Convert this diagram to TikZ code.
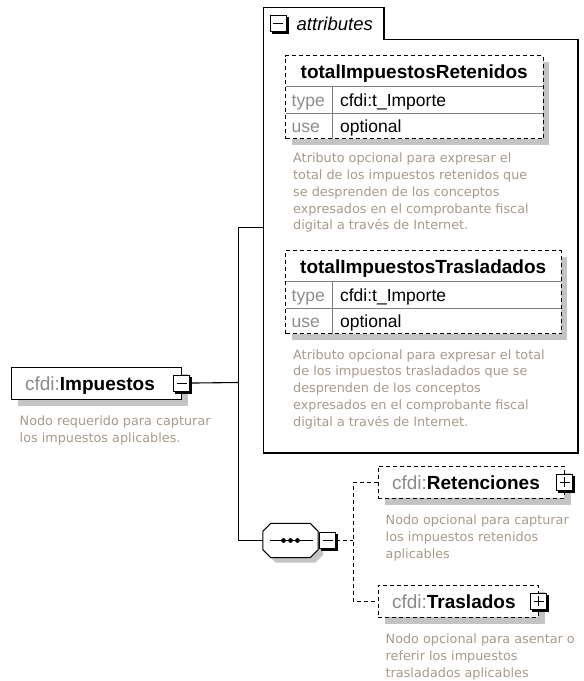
\documentclass[tikz,border=0pt]{standalone}
\usepackage{fontspec}
\setmainfont{Liberation Sans}
\newfontfamily\descfont{DejaVu Sans}
\usetikzlibrary{positioning,fit,backgrounds}
\definecolor{ink}{HTML}{000000}
\definecolor{prefix}{HTML}{8A8A8A}
\definecolor{keygray}{HTML}{8E8E8E}
\definecolor{annot}{HTML}{A8998A}
\definecolor{shade}{HTML}{C4C4C4}
\definecolor{rule}{HTML}{7F7F7F}
\tikzset{
  every node/.style={text=ink},
  castshadow/.style={preaction={fill=shade,draw=none,transform canvas={xshift=#1,yshift=-#1}}},
  elembox/.style={draw=ink,line width=1.1pt,fill=white,minimum height=32,inner xsep=14,inner ysep=0,align=left,font=\fontsize{19}{19}\selectfont,text height=15,text depth=0,castshadow=7pt},
  optbox/.style={elembox,dash pattern=on 4pt off 3pt},
  togglebox/.style={draw=ink,line width=1pt,fill=white,minimum size=16,inner sep=0,preaction={fill=ink,draw=ink,line width=1pt,transform canvas={xshift=2pt,yshift=-2pt}}},
  minusbox/.style={togglebox,path picture={\draw[line width=1pt] ([xshift=3pt]path picture bounding box.west) -- ([xshift=-3pt]path picture bounding box.east);}},
  plusbox/.style={togglebox,path picture={\draw[line width=1pt] ([xshift=3pt]path picture bounding box.west) -- ([xshift=-3pt]path picture bounding box.east) ([yshift=-3pt]path picture bounding box.north) -- ([yshift=3pt]path picture bounding box.south);}},
  frame/.style={draw=ink,line width=1.2pt},
  tablabel/.style={font=\itshape\fontsize{18.5}{18.5}\selectfont,inner sep=0,text height=14,text depth=0},
  attrbox/.style={draw=ink,line width=1pt,dash pattern=on 4pt off 3pt,fill=white,inner sep=0,castshadow=6pt},
  attrname/.style={font=\bfseries\fontsize{19}{19}\selectfont,minimum height=31,inner sep=0,text height=14,text depth=0},
  attrkey/.style={font=\fontsize{17.5}{17.5}\selectfont,text=keygray,text width=35,align=left,inner xsep=6,inner ysep=0,text height=13,text depth=0},
  attrval/.style={attrkey,text=ink,inner xsep=7},
  rowrule/.style={draw=rule,line width=0.9pt},
  seqshape/.style={draw=ink,line width=1pt,fill=white,castshadow=5pt},
  link/.style={draw=ink,line width=1.1pt},
  optlink/.style={draw=ink,line width=1.1pt,dash pattern=on 4pt off 3pt},
  desc/.style={font=\descfont\fontsize{12.8}{16.8}\selectfont,text=annot,align=left,inner sep=0},
}

\begin{document}
\begin{tikzpicture}[x=1pt,y=-1pt]
\useasboundingbox (0,0) rectangle (584,681);

\node[minimum width=314,minimum height=413,anchor=north west,inner sep=0] (attrs) at (263.5,39.5) {};
\node[minimum width=120,minimum height=32,anchor=south west,inner sep=0] (attrtab) at (attrs.north west) {};
\draw[frame] (attrs.south west) -- (attrtab.north west) -- (attrtab.north east) -- (attrtab.south east) -- (attrs.north east) -- (attrs.south east) -- cycle;
\node[minusbox] (tabminus) at ([xshift=14.5pt]attrtab.west) {};
\node[tablabel,right=10pt of tabminus] (tabtext) {attributes};

\node[attrname,minimum width=257,anchor=north west] (retenidos) at (285.5,55.5) {totalImpuestosRetenidos};
\node[attrkey,minimum height=26,below=0pt of retenidos.south west,anchor=north west] (retenidostype) {type};
\node[attrval,minimum height=26,text width=196,right=0pt of retenidostype] (retenidostypeval) {cfdi:t\_Importe};
\node[attrkey,minimum height=25,below=0pt of retenidostype] (retenidosuse) {use};
\node[attrval,minimum height=25,text width=196,right=0pt of retenidosuse] (retenidosuseval) {optional};
\begin{scope}[on background layer]
\node[attrbox,fit=(retenidos)(retenidosuseval)] (retenidosbox) {};
\end{scope}
\draw[rowrule] (retenidos.south west) -- (retenidos.south east);
\draw[rowrule] (retenidostype.south west) -- (retenidostypeval.south east);
\draw[rowrule] (retenidostype.north east) -- (retenidosuse.south east);
\node[desc,below right=13.5pt and 8pt of retenidosbox.south west] (retenidosdesc) {Atributo opcional para expresar el\\total de los impuestos retenidos que\\se desprenden de los conceptos\\expresados en el comprobante fiscal\\digital a través de Internet.};

\node[attrname,minimum width=275,anchor=north west] (trasladados) at (285.5,250.5) {totalImpuestosTrasladados};
\node[attrkey,minimum height=26,below=0pt of trasladados.south west,anchor=north west] (trasladadostype) {type};
\node[attrval,minimum height=26,text width=214,right=0pt of trasladadostype] (trasladadostypeval) {cfdi:t\_Importe};
\node[attrkey,minimum height=25,below=0pt of trasladadostype] (trasladadosuse) {use};
\node[attrval,minimum height=25,text width=214,right=0pt of trasladadosuse] (trasladadosuseval) {optional};
\begin{scope}[on background layer]
\node[attrbox,fit=(trasladados)(trasladadosuseval)] (trasladadosbox) {};
\end{scope}
\draw[rowrule] (trasladados.south west) -- (trasladados.south east);
\draw[rowrule] (trasladadostype.south west) -- (trasladadostypeval.south east);
\draw[rowrule] (trasladadostype.north east) -- (trasladadosuse.south east);
\node[desc,below right=15pt and 8pt of trasladadosbox.south west] (trasladadosdesc) {Atributo opcional para expresar el total\\de los impuestos trasladados que se\\desprenden de los conceptos\\expresados en el comprobante fiscal\\digital a través de Internet.};

\node[elembox,minimum width=170,text width=142,anchor=north west] (impuestos) at (10.5,366.5) {\textcolor{prefix}{cfdi:}\textbf{Impuestos}};
\node[minusbox] (impminus) at (impuestos.east) {};
\node[desc,below right=16pt and 9pt of impuestos.south west] (impdesc) {Nodo requerido para capturar\\los impuestos aplicables.};

\node[minimum width=55,minimum height=34,inner sep=0] (seq) at (290.5,540.5) {};
\draw[seqshape] ([xshift=8pt]seq.north west) -- ([xshift=-8pt]seq.north east) -- ([yshift=-8pt]seq.north east) -- ([yshift=8pt]seq.south east) -- ([xshift=-8pt]seq.south east) -- ([xshift=8pt]seq.south west) -- ([yshift=8pt]seq.south west) -- ([yshift=-8pt]seq.north west) -- cycle;
\draw[line width=1pt] ([xshift=7pt]seq.west) -- ([xshift=-5pt]seq.east);
\foreach \dx in {-7,0,7}
  \fill[ink] ([xshift=\dx pt]seq.center) circle (2.4pt);
\node[minusbox] (seqminus) at ([xshift=9.5pt]seq.east) {};

\node[optbox,minimum width=186,text width=158,anchor=north west] (retenciones) at (377.5,465.5) {\textcolor{prefix}{cfdi:}\textbf{Retenciones}};
\node[plusbox] (retplus) at (retenciones.east) {};
\node[desc,below right=16pt and 8pt of retenciones.south west] (retencionesdesc) {Nodo opcional para capturar\\los impuestos retenidos\\aplicables};

\node[optbox,minimum width=160,text width=132,anchor=north west] (traslados) at (377.5,584.5) {\textcolor{prefix}{cfdi:}\textbf{Traslados}};
\node[plusbox] (traplus) at (traslados.east) {};
\node[desc,below right=16pt and 8pt of traslados.south west] (trasladosdesc) {Nodo opcional para asentar o\\referir los impuestos\\trasladados aplicables};

\coordinate (jct) at (238.5,382.5);
\coordinate (attrsin) at (263.5,227.5);
\draw[link] (impminus.east) -- (jct);
\draw[link] (attrsin) -| (jct) |- (seq.west);

\coordinate (chjct) at ([xshift=17pt]seqminus.east);
\draw[optlink] (seqminus.east) -- (chjct);
\draw[optlink] (retenciones.west) -| (chjct) |- (traslados.west);

\end{tikzpicture}
\end{document}
